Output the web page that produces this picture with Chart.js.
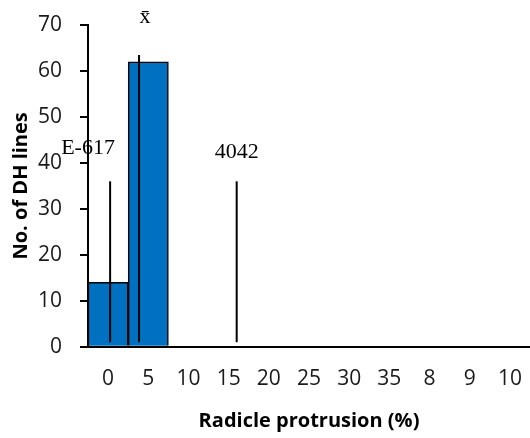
<!DOCTYPE html>
<html>
<head>
<meta charset="utf-8">
<script src="https://cdn.jsdelivr.net/npm/chart.js@4/dist/chart.umd.min.js"></script>
<style>
  html, body { margin: 0; padding: 0; background: #fff; }
  #wrap { width: 530px; height: 438px; }
</style>
</head>
<body>
<div id="wrap"><canvas id="histChart" width="530" height="438"></canvas></div>
<script>
// 类别与频数
const categories = ['0', '5', '10', '15', '20', '25', '30', '35', '8', '9', '10'];
const dhLines = [14, 62, 0, 0, 0, 0, 0, 0, 0, 0, 0];
const yTicks = [0, 10, 20, 30, 40, 50, 60, 70];

// 标记线 (x 为类别序号坐标)
const markerNames = ['E-617', 'x\u0304', '4042'];
const markerX = [0.05, 0.77, 3.2];
const markerTop = [36, 63.5, 36];
const markerBottom = 1;
// 标记文字锚点 (数据坐标)
const markerLabelX = [-0.5, 0.92, 3.2];
const markerLabelY = [43.2, 71.6, 42.4];

const markerSets = markerNames.map((name, i) => ({
  type: 'line',
  label: name,
  order: 0,
  data: [{ x: markerX[i], y: markerBottom }, { x: markerX[i], y: markerTop[i] }],
  borderColor: '#000',
  borderWidth: 2,
  pointRadius: 0,
  fill: false,
  clip: false
}));

// 标记文字
const markerLabelPlugin = {
  id: 'markerLabels',
  afterDatasetsDraw(chart) {
    const ctx = chart.ctx;
    const xs = chart.scales.x;
    const ys = chart.scales.y;
    ctx.save();
    ctx.fillStyle = '#000';
    ctx.font = '22px "Liberation Serif", "Times New Roman", serif';
    ctx.textAlign = 'center';
    ctx.textBaseline = 'middle';
    markerNames.forEach((name, i) => {
      ctx.fillText(name, xs.getPixelForValue(markerLabelX[i]), ys.getPixelForValue(markerLabelY[i]));
    });
    ctx.restore();
  }
};

const tickFont = { family: '"Open Sans", Lato, sans-serif', size: 21 };
const titleFont = { family: '"Open Sans", Lato, sans-serif', size: 20, weight: 'bold' };

const ctx = document.getElementById('histChart').getContext('2d');
window.histChart = new Chart(ctx, {
  type: 'bar',
  data: {
    datasets: [{
      label: 'No. of DH lines',
      order: 1,
      data: dhLines.map((v, i) => ({ x: i, y: v })),
      backgroundColor: '#0070C0',
      borderColor: '#000',
      borderWidth: 1.5,
      barPercentage: 1,
      categoryPercentage: 1,
      grouped: false
    }, ...markerSets]
  },
  options: {
    responsive: false,
    animation: false,
    layout: { padding: { top: 25, right: 0, left: 6, bottom: 5 } },
    plugins: {
      legend: { display: false },
      tooltip: { enabled: false }
    },
    scales: {
      x: {
        type: 'linear',
        offset: false,
        min: -0.5,
        max: 10.5,
        afterBuildTicks: (scale) => {
          scale.ticks = categories.map((c, i) => ({ value: i }));
        },
        afterFit: (scale) => {
          scale.paddingLeft = 0;
          scale.paddingRight = 0;
        },
        grid: { display: false, drawTicks: false },
        border: { color: '#000', width: 2 },
        ticks: {
          color: '#1a1a1a',
          padding: 20,
          maxRotation: 0,
          autoSkip: false,
          callback: (v) => categories[v],
          font: tickFont
        },
        title: {
          display: true,
          text: 'Radicle protrusion (%)',
          color: '#000',
          padding: { top: -3, bottom: 0 },
          font: titleFont
        }
      },
      y: {
        min: 0,
        max: 70,
        afterBuildTicks: (scale) => {
          scale.ticks = yTicks.map(v => ({ value: v }));
        },
        afterFit: (scale) => {
          scale.paddingTop = 0;
          scale.paddingBottom = 0;
        },
        ticks: {
          color: '#1a1a1a',
          padding: 18,
          font: tickFont
        },
        grid: { display: true, drawOnChartArea: false, tickLength: 8, color: '#000', lineWidth: 2 },
        border: { color: '#000', width: 2 },
        title: {
          display: true,
          text: 'No. of DH lines',
          color: '#000',
          padding: { top: 3, bottom: -13 },
          font: titleFont
        }
      }
    }
  },
  plugins: [markerLabelPlugin]
});
</script>
</body>
</html>
